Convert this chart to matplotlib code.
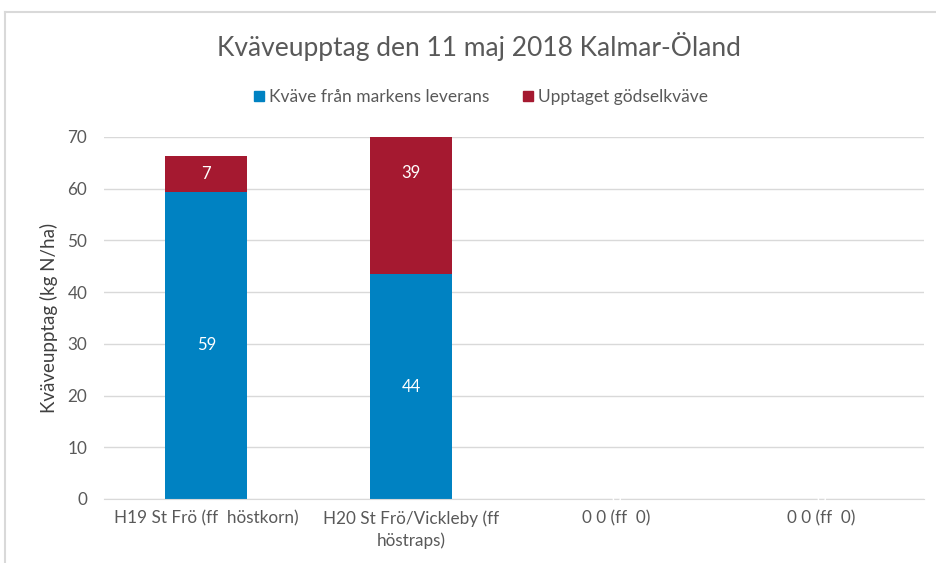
import numpy as np
import matplotlib.pyplot as plt
from matplotlib.lines import Line2D

# data
categories = ["H19 St Frö (ff  höstkorn)", "H20 St Frö/Vickleby (ff\nhöstraps)", "0 0 (ff  0)", "0 0 (ff  0)"]
mark = [59.4, 43.5, 0, 0]
godsel = [6.9, 39.0, 0, 0]
mark_labels = ["59", "44", "0", "0"]
godsel_labels = ["7", "39", "", ""]

blue = "#0082C2"
red = "#A51930"
grey = "#595959"

plt.rcParams['font.family'] = ['Lato', 'DejaVu Sans']

fig = plt.figure(figsize=(9.36, 5.63), dpi=100)
ax = fig.add_axes([0.111, 0.1137, 0.876, 0.643])

x = np.arange(len(categories))
ax.bar(x, mark, width=0.4, color=blue, label="Kväve från markens leverans", zorder=2)
ax.bar(x, godsel, width=0.4, bottom=mark, color=red, label="Upptaget gödselkväve", zorder=2)

# data labels
for i in range(len(x)):
    ax.text(x[i], mark[i] / 2, mark_labels[i], ha='center', va='center', color='white', fontsize=12, zorder=3)
    if godsel_labels[i]:
        ax.text(x[i], mark[i] + godsel[i] / 2, godsel_labels[i], ha='center', va='center', color='white', fontsize=12, zorder=3)

ax.set_ylim(0, 70)
ax.set_xlim(-0.5, len(categories) - 0.5)
ax.set_yticks(range(0, 71, 10))
ax.yaxis.grid(True, color="#D9D9D9", linewidth=1, zorder=0)
ax.set_xticks(x)
ax.set_xticklabels(categories, fontsize=12.3, color=grey, linespacing=1.45)
ax.tick_params(axis='y', labelsize=12.3, labelcolor=grey, length=0, pad=12)
ax.tick_params(axis='x', length=0, pad=8)
for s in ['top', 'right', 'left']:
    ax.spines[s].set_visible(False)
ax.spines['bottom'].set_color("#D9D9D9")
ax.set_ylabel("Kväveupptag (kg N/ha)", fontsize=13.5, color="#404040", labelpad=7)

fig.text(0.512, 0.917, "Kväveupptag den 11 maj 2018 Kalmar-Öland", ha='center', va='center', fontsize=19, color=grey)

handles = [Line2D([], [], marker='s', linestyle='', color=blue, markersize=7),
           Line2D([], [], marker='s', linestyle='', color=red, markersize=7)]
fig.legend(handles, ["Kväve från markens leverans", "Upptaget gödselkväve"], loc='center',
           bbox_to_anchor=(0.513, 0.828), ncol=2, frameon=False, fontsize=12.5,
           handlelength=0.8, handletextpad=0.2, columnspacing=1.8, labelcolor=grey)

# chart border
fig.add_artist(Line2D([5 / 936, 5 / 936], [0, 1 - 12 / 563], color="#D9D9D9", linewidth=1.5))
fig.add_artist(Line2D([5 / 936, 1], [1 - 12 / 563, 1 - 12 / 563], color="#D9D9D9", linewidth=1.5))

fig.savefig("out.png", dpi=100)
